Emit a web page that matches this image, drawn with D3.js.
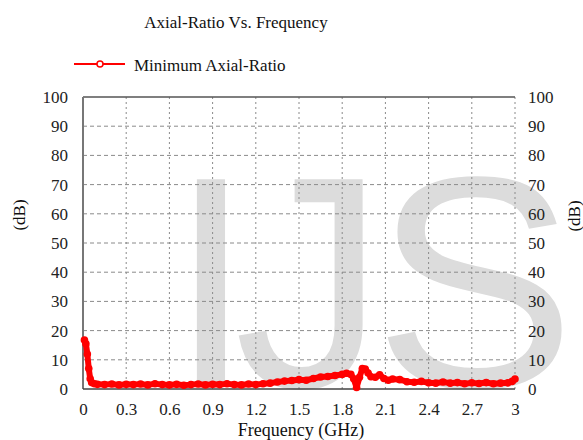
<!DOCTYPE html>
<html><head><meta charset="utf-8">
<script src="https://cdn.jsdelivr.net/npm/d3@7/dist/d3.min.js"></script>
<style>body{margin:0;background:#fff}svg{display:block}</style>
</head><body>
<svg id="c" width="583" height="440"></svg>
<script>
const title = "Axial-Ratio Vs. Frequency";
const seriesName = "Minimum Axial-Ratio";
const xTicks = [0,0.3,0.6,0.9,1.2,1.5,1.8,2.1,2.4,2.7,3];
const xTickLabels = ["0","0.3","0.6","0.9","1.2","1.5","1.8","2.1","2.4","2.7","3"];
const yTicks = [0,10,20,30,40,50,60,70,80,90,100];
const freqGHz = [0.01,0.02,0.03,0.04,0.05,0.06,0.08,0.10,
  0.15,0.20,0.25,0.30,0.35,0.40,0.45,0.50,0.55,0.60,0.65,0.70,0.75,0.80,0.85,0.90,0.95,1.00,1.05,1.10,1.15,1.20,1.25,1.30,1.35,1.40,1.45,1.50,1.55,1.60,1.65,1.70,1.75,1.80,
  1.83,1.86,1.88,1.90,1.92,1.94,1.96,1.98,2.00,
  2.03,2.06,2.09,2.12,2.15,
  2.20,2.25,2.30,2.35,2.40,2.45,2.50,2.55,2.60,2.65,2.70,2.75,2.80,2.85,2.90,2.95,
  2.98,3.00];
const axialRatio = [16.8,15.5,12.0,7.0,3.5,2.2,1.8,1.6,
  1.5,1.7,1.4,1.6,1.5,1.7,1.4,1.8,1.5,1.4,1.6,1.3,1.5,1.7,1.4,1.6,1.5,1.8,1.5,1.4,1.7,1.5,1.8,2.0,2.4,2.7,2.9,3.2,3.0,3.6,4.1,4.3,4.6,5.0,
  5.4,5.0,3.5,0.5,4.0,7.0,6.8,5.5,4.2,
  4.0,4.9,3.6,3.0,3.4,
  3.2,2.5,2.3,2.6,2.1,2.0,2.4,2.0,2.2,1.8,2.1,1.9,2.2,1.8,2.0,2.1,
  2.6,3.4];
const watermark = ["I","J","S"];

const SERIF = '"Liberation Serif"';
const svg = d3.select("#c");
const L=83, R=515, T=97, B=389;
const x = d3.scaleLinear().domain([0,3]).range([L,R]);
const y = d3.scaleLinear().domain([0,100]).range([B,T]);

// watermark
const wmX = [169,234,374];
svg.append("g").selectAll("text").data(watermark).join("text")
  .attr("x",(d,i)=>wmX[i]).attr("y",387)
  .style("font-family",'"Liberation Sans"').style("font-size","302px")
  .attr("fill","#dcdcdc").text(d=>d);

// gridlines
const g = svg.append("g");
g.selectAll("line.h").data(yTicks.filter(v=>v>0&&v<100)).join("line")
  .attr("x1",L).attr("x2",R).attr("y1",d=>y(d)).attr("y2",d=>y(d))
  .attr("stroke","#8a8a8a").attr("stroke-width",1).attr("stroke-dasharray","4,3");
g.selectAll("line.v").data(xTicks.filter(v=>v>0)).join("line")
  .attr("y1",T).attr("y2",B).attr("x1",d=>x(d)).attr("x2",d=>x(d))
  .attr("stroke","#8a8a8a").attr("stroke-width",1).attr("stroke-dasharray","2,3");

// frame
svg.append("line").attr("x1",L).attr("x2",R).attr("y1",T).attr("y2",T).attr("stroke","#555").attr("stroke-width",1.5);
svg.append("line").attr("x1",L).attr("x2",L).attr("y1",T).attr("y2",B).attr("stroke","#777").attr("stroke-width",2);
svg.append("line").attr("x1",L).attr("x2",R).attr("y1",B).attr("y2",B).attr("stroke","#444").attr("stroke-width",1.5);

// axes labels
const axL = d3.axisLeft(y).tickValues(yTicks).tickSize(0).tickPadding(15);
const gl = svg.append("g").attr("transform",`translate(${L},0)`).call(axL);
const axR = d3.axisRight(y).tickValues(yTicks).tickSize(0).tickPadding(13);
const gr = svg.append("g").attr("transform",`translate(${R},0)`).call(axR);
const axB = d3.axisBottom(x).tickValues(xTicks).tickFormat((d,i)=>xTickLabels[i]).tickSize(0).tickPadding(14);
const gb = svg.append("g").attr("transform",`translate(0,${B})`).call(axB);
[gl,gr,gb].forEach(a=>{a.select(".domain").remove();
  a.selectAll("text").style("font-family",SERIF).style("font-size","17px").attr("fill","#222");});

// series
const line = d3.line().x((d,i)=>x(freqGHz[i])).y(d=>y(d));
svg.append("path").datum(axialRatio).attr("d",line)
  .attr("fill","none").attr("stroke","#ff0000").attr("stroke-width",6).attr("stroke-linejoin","round");
svg.append("g").selectAll("circle").data(axialRatio).join("circle")
  .attr("cx",(d,i)=>x(freqGHz[i])).attr("cy",d=>y(d)).attr("r",3.8).attr("fill","#ff0000");

// title
svg.append("text").attr("x",236).attr("y",28).attr("text-anchor","middle")
  .style("font-family",SERIF).style("font-size","17px").attr("fill","#111").text(title);
// legend
svg.append("line").attr("x1",74).attr("x2",125).attr("y1",64).attr("y2",64).attr("stroke","#ff0000").attr("stroke-width",2);
svg.append("circle").attr("cx",100).attr("cy",64).attr("r",3).attr("fill","#fff").attr("stroke","#ff0000").attr("stroke-width",1.5);
svg.append("text").attr("x",134).attr("y",71).style("font-family",SERIF).style("font-size","17px").attr("fill","#111").text(seriesName);

// axis titles
svg.append("text").attr("x",301).attr("y",436).attr("text-anchor","middle")
  .style("font-family",SERIF).style("font-size","18px").attr("fill","#111").text("Frequency (GHz)");
svg.append("text").attr("transform","translate(25,215) rotate(-90)").attr("text-anchor","middle")
  .style("font-family",SERIF).style("font-size","17px").attr("fill","#111").text("(dB)");
svg.append("text").attr("transform","translate(580,216) rotate(-90)").attr("text-anchor","middle")
  .style("font-family",SERIF).style("font-size","17px").attr("fill","#111").text("(dB)");
</script>
</body></html>
